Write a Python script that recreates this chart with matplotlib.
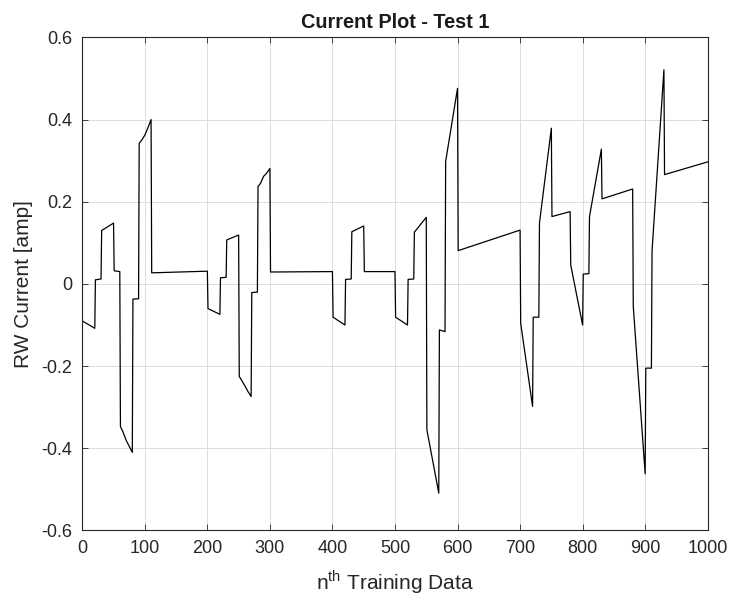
import matplotlib
matplotlib.use("Agg")
import matplotlib.pyplot as plt

plt.rcParams['font.family'] = ['Liberation Sans', 'DejaVu Sans']
plt.rcParams['axes.unicode_minus'] = False

# breakpoints of the current trace (index, amp)
n_idx = [0, 20, 21, 30, 31, 50, 51, 60, 61, 65, 70, 75, 80, 81, 90, 91, 95, 100, 105, 110,
         111, 200, 201, 220, 221, 230, 231, 250, 251, 255, 260, 265, 270, 271, 280, 281, 285, 290, 295, 300,
         301, 400, 401, 420, 421, 430, 431, 450, 451, 500, 501, 520, 521, 530, 531, 550,
         551, 570, 571, 580, 581, 600, 601, 700, 701, 720, 721, 730, 731, 750, 751, 780,
         781, 800, 801, 810, 811, 830, 831, 880, 881, 900, 901, 910, 911, 930, 931, 1000]
current = [-0.090, -0.108, 0.010, 0.012, 0.130, 0.148, 0.032, 0.030, -0.347, -0.36, -0.38, -0.395, -0.410, -0.037, -0.036, 0.342, 0.35, 0.362, 0.38, 0.400,
           0.027, 0.031, -0.060, -0.074, 0.015, 0.016, 0.107, 0.119, -0.225, -0.235, -0.248, -0.262, -0.274, -0.021, -0.020, 0.237, 0.245, 0.262, 0.270, 0.281,
           0.029, 0.030, -0.081, -0.100, 0.011, 0.012, 0.127, 0.141, 0.030, 0.030, -0.081, -0.100, 0.011, 0.012, 0.126, 0.162,
           -0.355, -0.509, -0.112, -0.116, 0.298, 0.476, 0.081, 0.131, -0.096, -0.298, -0.081, -0.081, 0.148, 0.379, 0.164, 0.176,
           0.046, -0.100, 0.024, 0.025, 0.164, 0.328, 0.207, 0.231, -0.055, -0.462, -0.205, -0.205, 0.080, 0.521, 0.266, 0.297]

fig = plt.figure(figsize=(7.32, 5.99), dpi=100)
ax = fig.add_axes([0.1124, 0.1144, 0.8544, 0.8232])
ax.plot(n_idx, current, color='black', lw=0.9)
ax.set_xlim(0, 1000)
ax.set_ylim(-0.6, 0.6)
ax.set_xticks(range(0, 1001, 100))
ax.set_yticks([-0.6, -0.4, -0.2, 0, 0.2, 0.4, 0.6])
ax.set_yticklabels(['-0.6', '-0.4', '-0.2', '0', '0.2', '0.4', '0.6'])
ax.grid(True, color='#dcdcdc', lw=0.7)
ax.set_axisbelow(True)
ax.tick_params(direction='in', top=True, right=True, length=4, width=0.6, labelsize=13, colors='#262626', pad=7)
for s in ax.spines.values():
    s.set_color('#262626')
    s.set_linewidth(0.8)
ax.set_title('Current Plot - Test 1', fontsize=14.3, fontweight='bold', pad=7, color='#1a1a1a')
ax.set_xlabel('n$^{\\mathregular{th}}$ Training Data', fontsize=15, color='#262626', labelpad=8)
ax.set_ylabel('RW Current [amp]', fontsize=15, color='#262626', labelpad=6)
fig.savefig('out.png', dpi=100)
